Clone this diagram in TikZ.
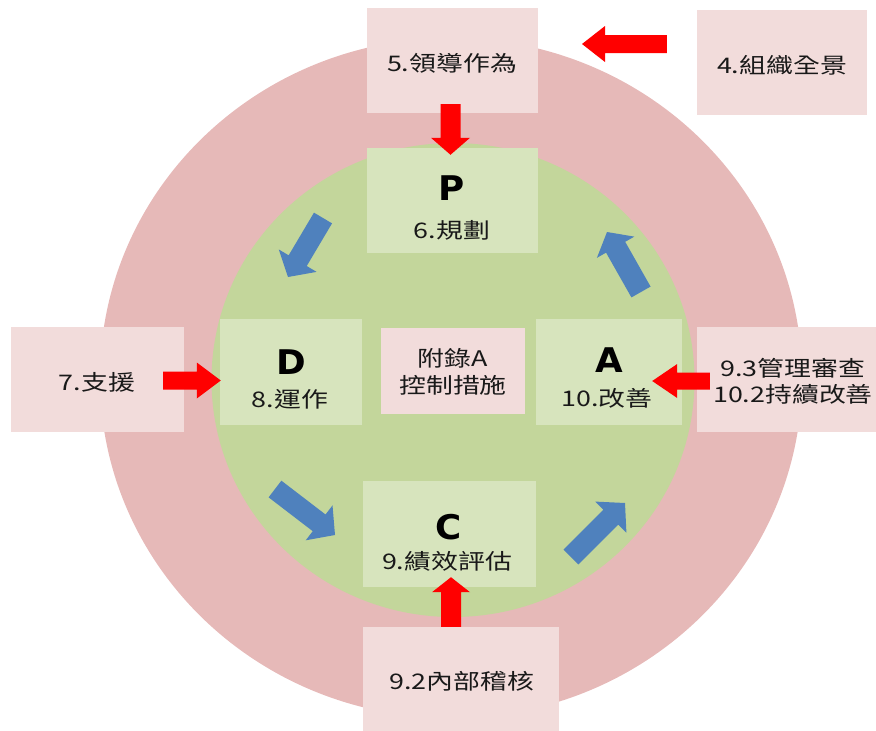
\documentclass[tikz,border=0pt]{standalone}
\usepackage{fontspec}
\usetikzlibrary{calc}
\newfontfamily\cjk[FakeStretch=1.25]{Noto Sans CJK TC}
\newfontfamily\pdca[FakeStretch=1.05]{DejaVu Sans}
\definecolor{ring}{HTML}{E6B9B8}
\definecolor{core}{HTML}{C3D69B}
\definecolor{pinkbox}{HTML}{F2DCDB}
\definecolor{greenbox}{HTML}{D7E4BD}
\definecolor{bluearr}{HTML}{4F81BD}
\definecolor{redarr}{HTML}{FF0000}
\newcommand{\blockarr}[6]{%
  \coordinate (ba-t) at (#2);
  \coordinate (ba-p) at (#3);
  \coordinate (ba-h) at ($(ba-p)!#6!(ba-t)$);
  \fill[#1] ($(ba-t)!#4!90:(ba-p)$) -- ($(ba-h)!#4!90:(ba-p)$) -- ($(ba-h)!#5!90:(ba-p)$)
    -- (ba-p) -- ($(ba-h)!#5!-90:(ba-p)$) -- ($(ba-h)!#4!-90:(ba-p)$) -- ($(ba-t)!#4!-90:(ba-p)$) -- cycle;}
\tikzset{
  pbox/.style={fill=pinkbox, draw=none, inner sep=0pt},
  gbox/.style={fill=greenbox, draw=none, inner sep=0pt},
  txt/.style={inner sep=0pt, text=black!90, font=\cjk\fontsize{21.5}{24}\selectfont},
  big/.style={inner sep=0pt, text=black, font=\pdca\bfseries\fontsize{34}{36}\selectfont}
}
\begin{document}
\begin{tikzpicture}[x=1pt,y=-1pt]
\useasboundingbox (0,0) rectangle (876,731);
\fill[ring] (451,378) ellipse [x radius=351pt, y radius=340pt];
\fill[core] (453,380) ellipse [x radius=241.5pt, y radius=237pt];

% boxes
\node[pbox, minimum width=171pt, minimum height=105pt] (b5) at (452.5,60.5) {};
\node[pbox, minimum width=170pt, minimum height=105pt] (b4) at (782,62.5) {};
\node[gbox, minimum width=171pt, minimum height=105pt] (bP) at (452.5,200.5) {};
\node[pbox, minimum width=173pt, minimum height=105pt] (b7) at (97.5,379.5) {};
\node[gbox, minimum width=142pt, minimum height=106pt] (bD) at (291,372) {};
\node[pbox, minimum width=144pt, minimum height=86pt] (bX) at (453,371) {};
\node[gbox, minimum width=146pt, minimum height=106pt] (bA) at (609,372) {};
\node[pbox, minimum width=179pt, minimum height=105pt] (b93) at (786.5,379.5) {};
\node[gbox, minimum width=173pt, minimum height=106pt] (bC) at (449.5,534) {};
\node[pbox, minimum width=196pt, minimum height=104pt] (b92) at (461,679) {};

% texts
\node[txt] (t5) at (452,63) {5.領導作為};
\node[txt] (t4) at (782,65) {4.組織全景};
\node[big] (tP) at (452,188) {P};
\node[txt] (tP2) at (452,230) {6.規劃};
\node[txt] (t7) at (97,382) {7.支援};
\node[big] (tD) at (291,362) {D};
\node[txt] (tD2) at (290,399) {8.運作};
\node[txt] (tX1) at (453,358) {附錄A};
\node[txt] (tX2) at (453,385) {控制措施};
\node[big] (tA) at (609,360) {A};
\node[txt] (tA2) at (607,398) {10.改善};
\node[txt] (t931) at (793,368) {9.3管理審查};
\node[txt] (t932) at (793,394) {10.2持續改善};
\node[big] (tC) at (449,527) {C};
\node[txt] (tC2) at (447,561) {9.績效評估};
\node[txt] (t92) at (462,681) {9.2內部稽核};

% red arrows
\coordinate (c4tip) at (582,44);
\blockarr{redarr}{$(b4.west)+(-30,-18.5)$}{c4tip}{9pt}{18pt}{23pt}
\blockarr{redarr}{$(b5.south)+(-2,-9)$}{$(bP.north)+(-2,7)$}{10pt}{19.5pt}{17pt}
\blockarr{redarr}{$(b7.east)+(-21,1)$}{$(bD.west)+(1,8.5)$}{9pt}{18pt}{24pt}
\blockarr{redarr}{$(b93.west)+(13,1.5)$}{$(bA.east)+(-30,9)$}{8.5pt}{17pt}{25pt}
\blockarr{redarr}{$(b92.north)+(-10,0)$}{$(bC.south)+(1.5,-10)$}{10pt}{19pt}{15pt}

% blue cycle arrows
\blockarr{bluearr}{323,218}{288,277}{10.5pt}{22pt}{19pt}
\blockarr{bluearr}{275,489}{335,535}{10.5pt}{22pt}{20pt}
\blockarr{bluearr}{571,557}{625,503}{10.5pt}{22pt}{20pt}
\blockarr{bluearr}{641,292}{607,232}{11pt}{21.5pt}{17.5pt}
\end{tikzpicture}
\end{document}
